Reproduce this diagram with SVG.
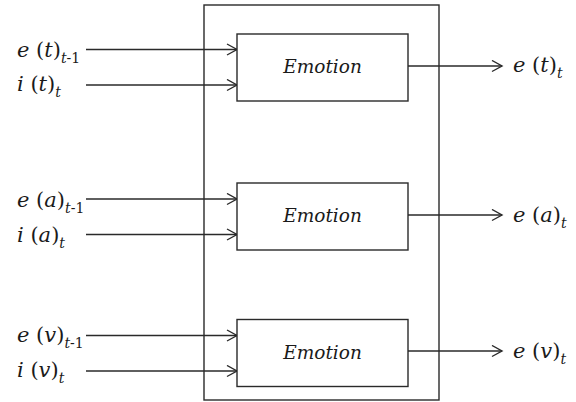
<svg xmlns="http://www.w3.org/2000/svg" width="576" height="402" viewBox="0 0 576 402">
  <style>
    .box { fill: #fff; stroke: #2a2a2a; stroke-width: 1.4; }
    .outer { fill: none; stroke: #2a2a2a; stroke-width: 1.4; }
    .conn { stroke: #2a2a2a; stroke-width: 1.4; fill: none; marker-end: url(#arr); }
    .lbl { font-family: "DejaVu Serif", "Liberation Serif", serif; font-style: italic; font-size: 21px; fill: #1a1a1a; }
    .up { font-style: normal; }
    .sub { font-size: 14px; }
    .node-text { font-family: "DejaVu Serif", "Liberation Serif", serif; font-style: italic; font-size: 18.5px; fill: #1a1a1a; text-anchor: middle; }
  </style>
  <defs>
    <marker id="arr" markerUnits="userSpaceOnUse" markerWidth="13" markerHeight="13" refX="11" refY="6.5" orient="auto">
      <path d="M1,1 L11,6.5 L1,12" fill="none" stroke="#2a2a2a" stroke-width="1.4"/>
    </marker>
  </defs>
  <rect width="576" height="402" fill="#fff"/>

  <g id="container">
    <rect class="outer" x="204" y="5" width="235" height="395"/>
  </g>

  <g id="connectors">
    <line class="conn" x1="86" y1="49.5" x2="237" y2="49.5"/>
    <line class="conn" x1="86" y1="85" x2="237" y2="85"/>
    <line class="conn" x1="408" y1="66" x2="502" y2="66"/>
    <line class="conn" x1="86" y1="199" x2="237" y2="199"/>
    <line class="conn" x1="86" y1="234.5" x2="237" y2="234.5"/>
    <line class="conn" x1="408" y1="215" x2="502" y2="215"/>
    <line class="conn" x1="86" y1="335.5" x2="237" y2="335.5"/>
    <line class="conn" x1="86" y1="371" x2="237" y2="371"/>
    <line class="conn" x1="408" y1="351" x2="502" y2="351"/>
  </g>

  <g id="emotion-t">
    <rect class="box" x="237" y="34" width="171" height="67"/>
    <text class="node-text" x="322.5" y="73">Emotion</text>
  </g>
  <g id="emotion-a">
    <rect class="box" x="237" y="183" width="171" height="67"/>
    <text class="node-text" x="322.5" y="222">Emotion</text>
  </g>
  <g id="emotion-v">
    <rect class="box" x="237" y="319.5" width="171" height="67"/>
    <text class="node-text" x="322.5" y="358.5">Emotion</text>
  </g>

  <g id="label-e-t-in"><text class="lbl" x="17" y="57">e <tspan class="up">(</tspan>t<tspan class="up">)</tspan><tspan class="sub" dy="6">t<tspan class="up">-1</tspan></tspan></text></g>
  <g id="label-i-t-in"><text class="lbl" x="17" y="91">i <tspan class="up">(</tspan>t<tspan class="up">)</tspan><tspan class="sub" dy="6">t</tspan></text></g>
  <g id="label-e-t-out"><text class="lbl" x="513" y="72">e <tspan class="up">(</tspan>t<tspan class="up">)</tspan><tspan class="sub" dy="6">t</tspan></text></g>

  <g id="label-e-a-in"><text class="lbl" x="17" y="207">e <tspan class="up">(</tspan>a<tspan class="up">)</tspan><tspan class="sub" dy="6">t<tspan class="up">-1</tspan></tspan></text></g>
  <g id="label-i-a-in"><text class="lbl" x="17" y="242">i <tspan class="up">(</tspan>a<tspan class="up">)</tspan><tspan class="sub" dy="6">t</tspan></text></g>
  <g id="label-e-a-out"><text class="lbl" x="513" y="222">e <tspan class="up">(</tspan>a<tspan class="up">)</tspan><tspan class="sub" dy="6">t</tspan></text></g>

  <g id="label-e-v-in"><text class="lbl" x="17" y="342">e <tspan class="up">(</tspan>v<tspan class="up">)</tspan><tspan class="sub" dy="6">t<tspan class="up">-1</tspan></tspan></text></g>
  <g id="label-i-v-in"><text class="lbl" x="17" y="377">i <tspan class="up">(</tspan>v<tspan class="up">)</tspan><tspan class="sub" dy="6">t</tspan></text></g>
  <g id="label-e-v-out"><text class="lbl" x="513" y="358">e <tspan class="up">(</tspan>v<tspan class="up">)</tspan><tspan class="sub" dy="6">t</tspan></text></g>
</svg>
